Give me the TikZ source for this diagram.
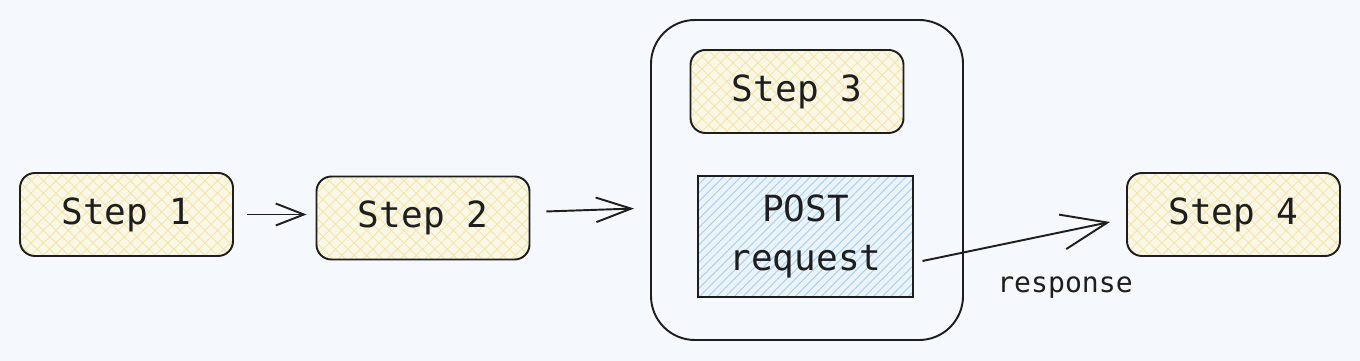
\documentclass[tikz,border=0pt]{standalone}
\usepackage{fontspec}
\setmonofont{DejaVu Sans Mono}
\usepackage{xcolor}
\usepackage{tikz}
\usetikzlibrary{arrows.meta,positioning,calc,patterns.meta}
\definecolor{cBg}{HTML}{F5F9FE}
\definecolor{cInk}{HTML}{1E1E1E}
\definecolor{cYellow}{HTML}{FAF7E6}
\definecolor{cYellowHatch}{HTML}{F3E6AA}
\definecolor{cBlue}{HTML}{E8F3FC}
\definecolor{cBlueHatch}{HTML}{A8CCEA}

\begin{document}
\begin{tikzpicture}[font=\ttfamily, text=cInk,
    stepbox/.style={draw=cInk, line width=1.1pt, rounded corners=8.5pt,
      minimum width=4.26cm, minimum height=1.66cm,
      preaction={fill=cYellow},
      pattern={Hatch[angle=45,distance=5pt,line width=0.5pt]}, pattern color=cYellowHatch,
      font=\ttfamily\fontsize{20.5}{24}\selectfont},
    reqbox/.style={draw=cInk, line width=1.1pt,
      minimum width=4.30cm, minimum height=2.42cm, align=center,
      preaction={fill=cBlue},
      pattern={Lines[angle=45,distance=3.5pt,line width=0.5pt]}, pattern color=cBlueHatch,
      font=\ttfamily\fontsize{20.5}{27.5}\selectfont},
    groupbox/.style={draw=cInk, line width=1.1pt, rounded corners=25pt,
      minimum width=6.24cm, minimum height=6.4cm},
    flow/.style={draw=cInk, line width=1.1pt}]
  \fill[cBg] (0,0) rectangle (27.2,7.22);
  \useasboundingbox (0,0) rectangle (27.2,7.22);

  % the group around step 3 and the request
  \node[groupbox] (group) at (16.14,3.62) {};

  \node[stepbox] (step1) at (2.53,2.93) {Step 1};
  \node[stepbox] (step2) at (8.46,2.86) {Step 2};
  \node[stepbox] (step3) at (15.94,5.39) {Step 3};
  \node[stepbox] (step4) at (24.67,2.93) {Step 4};
  \node[reqbox] (post) at (16.11,2.49) {POST\\request};

  \draw[flow, -{Straight Barb[length=16pt,width=12.5pt]}, shorten <=0.28cm, shorten >=0.18cm]
    (step1.east) -- (step1.east -| step2.west);
  \draw[flow, -{Straight Barb[length=20pt,width=14pt]}, shorten <=0.32cm, shorten >=0.32cm]
    ($(step2.east)+(0,0.12)$) -- ($(step2.east -| group.west)+(0,0.2)$);
  \draw[flow, -{Straight Barb[length=26pt,width=20pt]}]
    ($(post.east)+(0.18,-0.49)$) -- ($(step4.west)+(-0.32,-0.15)$)
    node[pos=0.76, below=0.78cm, font=\ttfamily\fontsize{16}{19}\selectfont] (resp) {response};
\end{tikzpicture}
\end{document}
